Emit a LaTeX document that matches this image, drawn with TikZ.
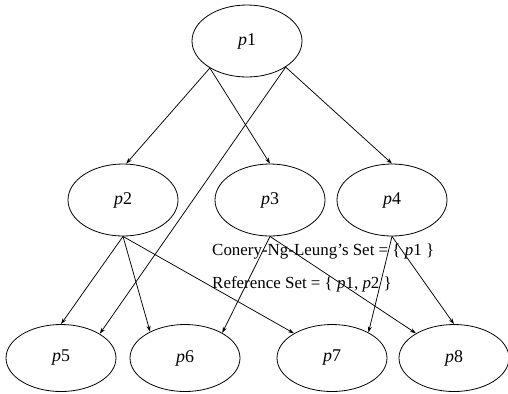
\documentclass[tikz,border=0pt]{standalone}
\usepackage{fontspec}
\setmainfont{Liberation Serif}
\usepackage{tikz}
\usetikzlibrary{positioning, arrows.meta, shapes.geometric}
\tikzset{
    page/.style={draw, ellipse, minimum width=110bp, minimum height=72bp, inner sep=0pt, line width=0.8bp, font=\fontsize{18}{21}\selectfont},
    low/.style={minimum height=67bp},
    link/.style={-{Stealth[length=6bp, width=4bp]}, line width=0.75bp},
    setlbl/.style={anchor=base west, inner sep=0pt, font=\fontsize{17}{20}\selectfont},
}
\newcommand{\pname}[1]{\textit{p}#1}

\begin{document}
\begin{tikzpicture}[x=1bp, y=-1bp]
        \useasboundingbox (0,0) rectangle (508,393);
        \node[page] (p1) at (247,41)  {\pname{1}};
        \node[page] (p2) at (123,200) {\pname{2}};
        \node[page] (p3) at (270,200) {\pname{3}};
        \node[page] (p4) at (392,200) {\pname{4}};
        \node[page, low] (p5) at (61,358)  {\pname{5}};
        \node[page, low] (p6) at (185,358) {\pname{6}};
        \node[page, low] (p7) at (332,358) {\pname{7}};
        \node[page, low] (p8) at (454,358) {\pname{8}};
        \node[setlbl] (cnl) at (212,255) {Conery-Ng-Leung’s Set = \{ \pname{1} \}};
        \node[setlbl] (ref) at (212,288) {Reference Set = \{ \pname{1}, \pname{2} \}};
        \draw[link] (p1.216) -- (p2.85);
        \draw[link] (p1.216) -- (p3.north);
        \draw[link] (p1.326) -- (p4.north);
        \draw[link] (p1.326) -- (p5.32);
        \draw[link] (p2.south) -- (p5.north);
        \draw[link] (p2.south) -- (p6.143);
        \draw[link] (p2.south) -- (p7.147);
        \draw[link] (p3.south) -- (p6.34);
        \draw[link] (p3.south) -- (p8.147);
        \draw[link] (p4.south) -- (p7.35);
        \draw[link] (p4.south) -- (p8.north);
    \end{tikzpicture}
\end{document}
